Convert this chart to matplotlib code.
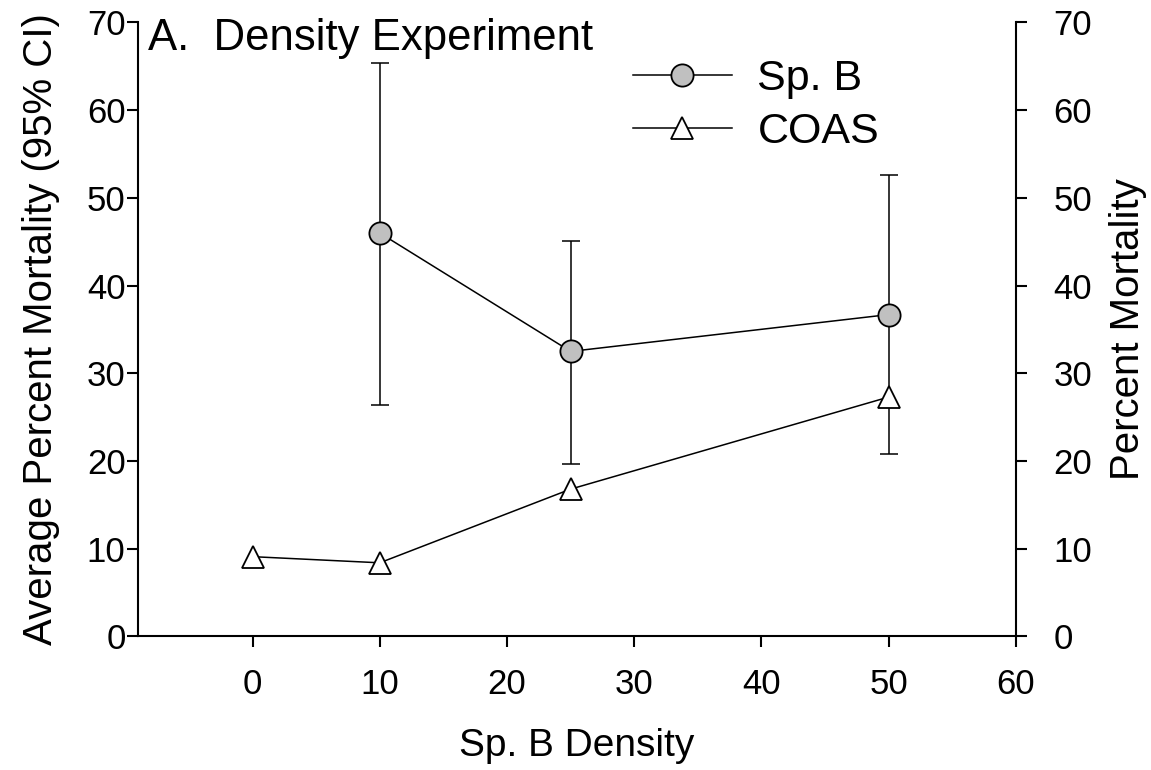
"""
Density experiment: percent mortality of Sp. B and COAS across Sp. B densities.
"""

import matplotlib
matplotlib.use("Agg")
import matplotlib.pyplot as plt

plt.rcParams["font.family"] = ["Liberation Sans", "DejaVu Sans"]

# ── data ─────────────────────────────────────────────────────────────────────
spb_density = [10, 25, 50]
spb_mort    = [46.0, 32.5, 36.7]
spb_ci_low  = [26.4, 19.7, 20.8]
spb_ci_high = [65.4, 45.1, 52.6]

coas_density = [0, 10, 25, 50]
coas_mort    = [9.1, 8.4, 16.8, 27.3]

x_ticks = [0, 10, 20, 30, 40, 50, 60]
y_ticks = [0, 10, 20, 30, 40, 50, 60, 70]


def main():
    fig = plt.figure(figsize=(11.51, 7.70), dpi=100)
    ax = fig.add_axes([0.1199, 0.1734, 0.7628, 0.7974])

    # error bars first so the markers sit on top
    yerr = [[m - lo for m, lo in zip(spb_mort, spb_ci_low)],
            [hi - m for m, hi in zip(spb_mort, spb_ci_high)]]
    ax.errorbar(spb_density, spb_mort, yerr=yerr, fmt="none",
                ecolor="black", elinewidth=1.1, capsize=6.5, capthick=1.1,
                zorder=2)

    ax.plot(spb_density, spb_mort, color="black", lw=1.1,
            marker="o", ms=16, mfc="#c0c0c0", mec="black", mew=1.3,
            label="Sp. B", zorder=3)
    ax.plot(coas_density, coas_mort, color="black", lw=1.1,
            marker="^", ms=16, mfc="white", mec="black", mew=1.3,
            label="COAS", zorder=3)

    ax.set_xlim(-9, 60)
    ax.set_ylim(0, 70)
    ax.set_xticks(x_ticks)
    ax.set_yticks(y_ticks)

    for side in ("top", "right"):
        ax.spines[side].set_visible(False)
    for side in ("left", "bottom"):
        ax.spines[side].set_linewidth(1.5)

    ax.tick_params(axis="x", direction="out", length=8, width=1.5,
                   labelsize=25, pad=15)
    ax.tick_params(axis="y", direction="out", length=8, width=1.5,
                   labelsize=25, pad=1)

    ax.set_xlabel("Sp. B Density", fontsize=28, labelpad=19)
    ax.set_ylabel("Average Percent Mortality (95% CI)", fontsize=29,
                  labelpad=19)

    # right-hand axis, same scale
    ax2 = ax.twinx()
    ax2.set_ylim(0, 70)
    ax2.set_yticks(y_ticks)
    for side in ("top", "left", "bottom"):
        ax2.spines[side].set_visible(False)
    ax2.spines["right"].set_linewidth(1.5)
    ax2.tick_params(axis="y", direction="out", length=8, width=1.5,
                    labelsize=25, pad=19)
    ax2.set_ylabel("Percent Mortality", fontsize=29, labelpad=12)

    fig.text(148 / 1151, 1 - 50 / 770, "A.  Density Experiment",
             fontsize=31.5, ha="left", va="baseline")

    ax.legend(loc="upper left", bbox_to_anchor=(0.529, 0.99),
              frameon=False, fontsize=31, handlelength=2.3,
              handletextpad=0.6, labelspacing=0.3, borderpad=0.2,
              numpoints=1)

    fig.savefig("out.png", dpi=100)


if __name__ == "__main__":
    main()
